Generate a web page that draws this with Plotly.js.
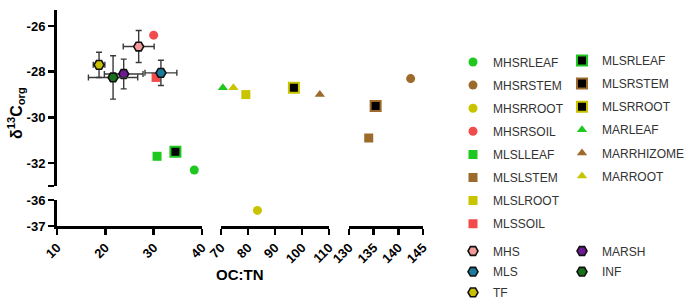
<!DOCTYPE html>
<html><head><meta charset="utf-8">
<script src="https://cdn.plot.ly/plotly-3.0.1.min.js"></script>
<style>html,body{margin:0;padding:0;background:#fff}#chart{width:685px;height:300px}</style>
</head><body><div id="chart"></div>
<script>
// ---- data ----
const seriesNames = ["MHSRLEAF","MHSRSTEM","MHSRROOT","MHSRSOIL","MLSLLEAF","MLSLSTEM","MLSLROOT","MLSSOIL",
  "MLSRLEAF","MLSRSTEM","MLSRROOT","MARLEAF","MARRHIZOME","MARROOT","MHS","MLS","TF","MARSH","INF"];
const ocTn  = [38.4, 142.5, 83.5, 30.0, 30.7, 134.0, 79.2, 30.5, 34.5, 135.4, 97.0, 70.7, 106.6, 74.6, 26.9, 31.5, 18.7, 23.8, 21.6];
const d13C  = [-32.3, -28.3, -36.4, -26.4, -31.7, -30.9, -29.0, -28.25, -31.5, -29.5, -28.7, -28.7, -29.0, -28.7, -26.9, -28.05, -27.7, -28.1, -28.25];
const ocTnErr = [0,0,0,0,0,0,0,0,0,0,0,0,0,0, 3.2, 3.3, 1.2, 4.0, 5.1];
const d13CErr = [0,0,0,0,0,0,0,0,0,0,0,0,0,0, 0.7, 0.55, 0.55, 0.65, 0.95];

// axis segments (broken axes) and tick labels
const xSegments = [[10,40],[70,110],[130,145]];
const xTicks = [[10,20,30,40],[70,80,90,100,110],[130,135,140,145]];
const ySegments = [[-37,-36],[-33,-25.3]];
const yTicks = [[-37,-36],[-33,-32,-30,-28,-26]];
const yTickText = [["-37","-36"],[" ","-32","-30","-28","-26"]];

// ---- styles ----
const GREEN="#1fc81f", BROWN="#9c6a2a", OLIVE="#c8c400", RED="#f24b4b";
const styles = {
  MHSRLEAF:{sym:"circle",c:GREEN}, MHSRSTEM:{sym:"circle",c:BROWN}, MHSRROOT:{sym:"circle",c:OLIVE}, MHSRSOIL:{sym:"circle",c:RED},
  MLSLLEAF:{sym:"square",c:GREEN}, MLSLSTEM:{sym:"square",c:BROWN}, MLSLROOT:{sym:"square",c:OLIVE}, MLSSOIL:{sym:"square",c:RED},
  MLSRLEAF:{sym:"square",c:"#000",lc:GREEN}, MLSRSTEM:{sym:"square",c:"#000",lc:BROWN}, MLSRROOT:{sym:"square",c:"#000",lc:OLIVE},
  MARLEAF:{sym:"triangle-up",c:GREEN}, MARRHIZOME:{sym:"triangle-up",c:BROWN}, MARROOT:{sym:"triangle-up",c:OLIVE},
  MHS:{sym:"hexagon2",c:"#f49a9a",lc:"#111"}, MLS:{sym:"hexagon2",c:"#1a7c9c",lc:"#111"}, TF:{sym:"hexagon2",c:"#c8c000",lc:"#111"},
  MARSH:{sym:"hexagon2",c:"#6e1a96",lc:"#111"}, INF:{sym:"hexagon2",c:"#17701a",lc:"#111"}
};
const legendOf = {
  MHSRLEAF:"legend",MHSRSTEM:"legend",MHSRROOT:"legend",MHSRSOIL:"legend",MLSLLEAF:"legend",MLSLSTEM:"legend",MLSLROOT:"legend",MLSSOIL:"legend",
  MLSRLEAF:"legend2",MLSRSTEM:"legend2",MLSRROOT:"legend2",MARLEAF:"legend2",MARRHIZOME:"legend2",MARROOT:"legend2",
  MHS:"legend3",MLS:"legend3",TF:"legend3",MARSH:"legend4",INF:"legend4"
};

function segIndex(v, segs){
  for(let i=0;i<segs.length;i++){ if(v>=segs[i][0] && v<=segs[i][1]) return i; }
  return 0;
}
const axName = (p,i)=> i===0 ? p : p+(i+1);

const traces = seriesNames.map((n,i)=>{
  const st = styles[n];
  const xi = segIndex(ocTn[i], xSegments), yi = segIndex(d13C[i], ySegments);
  const isHex = st.sym.startsWith("hexagon");
  return {
    type:"scatter", mode:"markers", name:n, legend:legendOf[n], legendgroup:n,
    x:[ocTn[i]], y:[d13C[i]], xaxis:axName("x",xi), yaxis:axName("y",yi), cliponaxis:false,
    marker:{symbol:st.sym, color:st.c, size: isHex?10:(st.lc?10:9),
      line:{color: st.lc||st.c, width: st.lc ? (isHex?1.6:2) : 0}},
    error_x:{type:"data", array:[ocTnErr[i]], visible: ocTnErr[i]>0, color:"#3a3a3a", thickness:1.4, width:3},
    error_y:{type:"data", array:[d13CErr[i]], visible: d13CErr[i]>0, color:"#3a3a3a", thickness:1.4, width:3}
  };
});

// ---- layout ----
const W=685, H=300, L=57, R=262, T=10, B=74;
const pw=W-L-R, ph=H-T-B;
const px2x = p => (p-L)/pw;
const py2y = p => (H-B-p)/ph;
const tickFont = {family:"Liberation Sans, Arial, sans-serif", size:13, color:"#000", weight:"bold"};
const baseAxis = {showline:true, linecolor:"#000", linewidth:3, ticks:"outside", ticklen:6, tickwidth:2.5,
  tickcolor:"#000", showgrid:false, zeroline:false, tickfont:tickFont, fixedrange:true};
const xDomainsPx = [[57,202],[221,329],[349,423]];
const yDomainsPx = [[226,200],[186,10]];

const layout = {
  width:W, height:H, margin:{l:L,r:R,t:T,b:B,autoexpand:false},
  paper_bgcolor:"#fff", plot_bgcolor:"#fff", showlegend:true,
  font:{family:"Liberation Sans, Arial, sans-serif"},
  annotations:[
    {text:"δ<sup>13</sup>C<sub>org</sub>", xref:"paper", yref:"paper", x:px2x(16), y:py2y(113), textangle:-90,
     showarrow:false, xanchor:"center", yanchor:"middle", font:{size:16, color:"#000", weight:"bold"}},
    {text:"OC:TN", xref:"paper", yref:"paper", x:px2x(240), y:py2y(274), showarrow:false,
     xanchor:"center", yanchor:"middle", font:{size:15, color:"#000", weight:"bold"}}
  ]
};
xSegments.forEach((s,i)=>{
  layout[axName("xaxis",i)] = Object.assign({}, baseAxis, {
    domain:[px2x(xDomainsPx[i][0]), px2x(xDomainsPx[i][1])], range:s, anchor:"y",
    tickmode:"array", tickvals:xTicks[i], ticktext:xTicks[i].map(String), tickangle:-45
  });
});
ySegments.forEach((s,i)=>{
  layout[axName("yaxis",i)] = Object.assign({}, baseAxis, {
    domain:[py2y(yDomainsPx[i][0]), py2y(yDomainsPx[i][1])], range:s, anchor:"x",
    tickmode:"array", tickvals:yTicks[i], ticktext:yTickText[i]
  });
});
const legFont = {family:"Liberation Sans, Arial, sans-serif", size:12, color:"#333"};
const legBase = {xanchor:"left", yanchor:"top", font:legFont, bgcolor:"rgba(0,0,0,0)", borderwidth:0,
  itemclick:false, itemdoubleclick:false, traceorder:"grouped"};
layout.legend  = Object.assign({}, legBase, {x:px2x(453), y:py2y(47.5), tracegroupgap:4.1});
layout.legend2 = Object.assign({}, legBase, {x:px2x(562), y:py2y(46), tracegroupgap:4.1});
layout.legend3 = Object.assign({}, legBase, {x:px2x(453), y:py2y(236.5), tracegroupgap:1.7});
layout.legend4 = Object.assign({}, legBase, {x:px2x(562), y:py2y(236.5), tracegroupgap:1.7});

Plotly.newPlot("chart", traces, layout, {displayModeBar:false, staticPlot:true});
</script>
</body></html>
